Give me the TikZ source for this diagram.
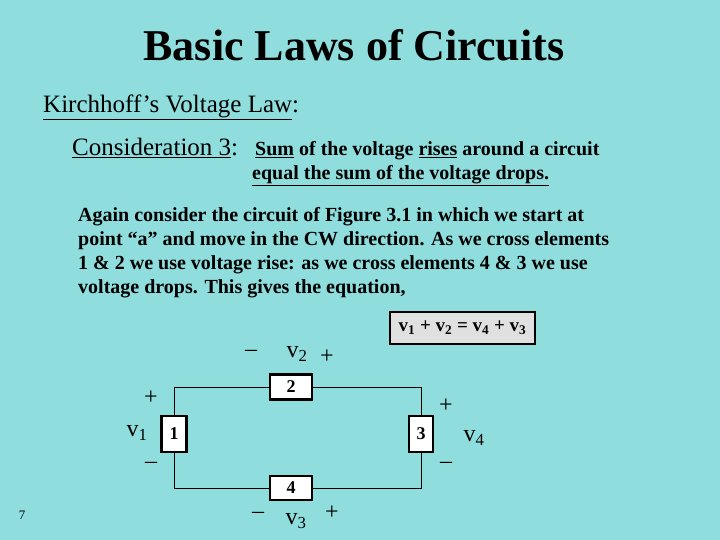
\documentclass[tikz,border=0pt]{standalone}
\usepackage{fontspec}
\setmainfont{Liberation Serif}
\definecolor{bg}{RGB}{143,221,221}
\definecolor{eqbg}{RGB}{224,224,224}
\newcommand\sbs[1]{\textsubscript{#1}}
\begin{document}
\begin{tikzpicture}[x=1pt,y=-1pt,
  elem/.style={draw,line width=2.5pt,fill=white,inner sep=0pt,font=\fontsize{18}{20}\selectfont\bfseries},
  lbl/.style={font=\fontsize{24}{26}\selectfont},
  body/.style={font=\fontsize{20}{24}\selectfont\bfseries,align=left,anchor=north west,inner sep=0pt}]
\fill[bg] (0,0) rectangle (720,540);
\useasboundingbox (0,0) rectangle (720,540);
\node[font=\fontsize{44}{46}\selectfont\bfseries] (title) at (354,45) {Basic Laws of Circuits};
\node[anchor=west,inner sep=0pt,font=\fontsize{25}{28}\selectfont] (kvl) at (43,107) {\underline{Kirchhoff’s Voltage Law}:};
\node[anchor=west,inner sep=0pt,font=\fontsize{25}{28}\selectfont] (cons) at (72,148) {\underline{Consideration 3}:};
\node[anchor=west,inner sep=0pt,font=\fontsize{20}{22}\selectfont\bfseries] (l1) at (255,151) {\underline{Sum} of the voltage \underline{rises} around a circuit};
\node[anchor=west,inner sep=0pt,font=\fontsize{20}{22}\selectfont\bfseries] (l2) at (252,176) {\underline{equal the sum of the voltage drops.}};
\node[body] (par) at (78,207) {Again consider the circuit of Figure 3.1 in which we start at\\point “a” and move in the CW direction.  As we cross elements\\1 \& 2 we use voltage rise: as we cross elements 4 \& 3 we use\\voltage drops.  This gives the equation,};
\node[draw,line width=1.5pt,fill=eqbg,minimum width=145pt,minimum height=32pt,font=\fontsize{19}{20}\selectfont\bfseries] (eq) at (462.5,328) {v\sbs{1} + v\sbs{2} = v\sbs{4} + v\sbs{3}};
\node[font=\fontsize{13}{14}\selectfont] (pg) at (22,515) {7};
% circuit
\coordinate (tl) at (174,387); \coordinate (tr) at (421,387);
\coordinate (bl) at (174,488); \coordinate (br) at (421,488);
\node[elem,minimum width=42pt,minimum height=25pt] (e2) at (291,387) {2};
\node[elem,minimum width=42pt,minimum height=24pt] (e4) at (291,488) {4};
\node[elem,minimum width=25pt,minimum height=36pt] (e1) at (174,434) {1};
\node[elem,minimum width=24pt,minimum height=36pt] (e3) at (421,434) {3};
\draw[line width=0.8pt] (e2.west) -- (tl) -- (e1.north);
\draw[line width=0.8pt] (e1.south) -- (bl) -- (e4.west);
\draw[line width=0.8pt] (e4.east) -- (br) -- (e3.south);
\draw[line width=0.8pt] (e3.north) -- (tr) -- (e2.east);
\node[lbl] (m2) at (251,353) {–};
\node[lbl] (v2) at (297,354) {v\sbs{2}};
\node[lbl] (p2) at (327,357) {+};
\node[lbl] (p1) at (151,398) {+};
\node[lbl] (v1) at (137,433) {v\sbs{1}};
\node[lbl] (m1) at (151,465) {–};
\node[lbl] (p4) at (446,406) {+};
\node[lbl] (v4) at (474,438) {v\sbs{4}};
\node[lbl] (m4) at (446,465) {–};
\node[lbl] (m3) at (258,515) {–};
\node[lbl] (v3) at (296,521) {v\sbs{3}};
\node[lbl] (p3) at (332,513) {+};
\end{tikzpicture}
\end{document}
